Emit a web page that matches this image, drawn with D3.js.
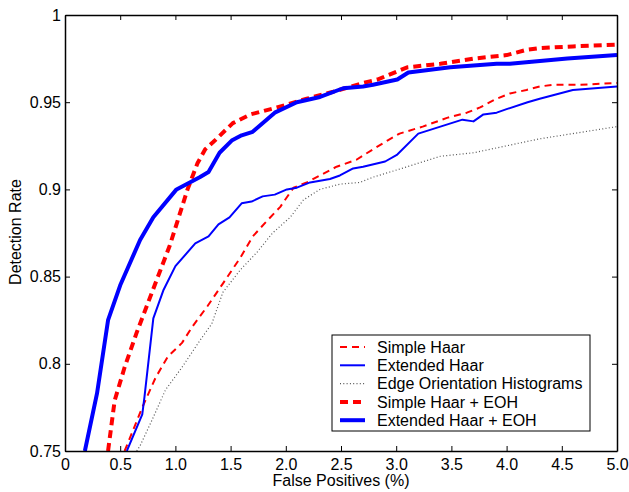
<!DOCTYPE html>
<html><head><meta charset="utf-8">
<script src="https://cdn.jsdelivr.net/npm/d3@7"></script>
<style>body{margin:0;background:#fff}svg{display:block}text{font-family:"Liberation Sans",Arial,sans-serif;fill:#000}</style>
</head><body><div id="chart"></div>
<script>
const seriesNames = ["Simple Haar","Extended Haar","Edge Orientation Histograms","Simple Haar + EOH","Extended Haar + EOH"];
const xTicks = [0,0.5,1.0,1.5,2.0,2.5,3.0,3.5,4.0,4.5,5.0];
const xTickLabels = ["0","0.5","1.0","1.5","2.0","2.5","3.0","3.5","4.0","4.5","5.0"];
const yTicks = [0.75,0.8,0.85,0.9,0.95,1];
const yTickLabels = ["0.75","0.8","0.85","0.9","0.95","1"];

const simpleHaar = [[0.54,0.75],[0.70,0.775],[0.82,0.792],[0.93,0.804],[1.06,0.812],[1.15,0.821],[1.29,0.833],[1.43,0.846],[1.59,0.861],[1.70,0.873],[1.83,0.882],[1.95,0.890],[2.07,0.901],[2.19,0.904],[2.31,0.908],[2.46,0.913],[2.64,0.917],[2.79,0.923],[2.92,0.928],[3.03,0.932],[3.24,0.936],[3.46,0.941],[3.64,0.944],[3.76,0.947],[3.91,0.952],[4.03,0.955],[4.18,0.957],[4.30,0.959],[4.42,0.960],[4.66,0.960],[5.0,0.961]];
const extendedHaar = [[0.56,0.75],[0.70,0.771],[0.72,0.781],[0.80,0.826],[0.89,0.842],[1.00,0.856],[1.18,0.869],[1.30,0.873],[1.39,0.880],[1.49,0.884],[1.60,0.892],[1.69,0.893],[1.79,0.896],[1.90,0.897],[2.01,0.900],[2.10,0.901],[2.22,0.904],[2.40,0.906],[2.49,0.908],[2.61,0.912],[2.70,0.913],[2.90,0.916],[3.01,0.920],[3.20,0.932],[3.40,0.936],[3.60,0.940],[3.70,0.939],[3.79,0.943],[3.91,0.944],[4.00,0.946],[4.19,0.950],[4.30,0.952],[4.42,0.954],[4.60,0.957],[5.0,0.959]];
const eoh = [[0.65,0.75],[0.68,0.753],[0.79,0.768],[0.91,0.785],[1.06,0.798],[1.24,0.815],[1.33,0.823],[1.43,0.841],[1.59,0.854],[1.74,0.864],[1.88,0.875],[2.04,0.884],[2.16,0.894],[2.31,0.900],[2.49,0.903],[2.67,0.904],[2.79,0.907],[3.10,0.913],[3.40,0.919],[3.70,0.921],[4.00,0.925],[4.30,0.929],[4.60,0.932],[5.0,0.936]];
const simpleHaarEOH = [[0.39,0.75],[0.45,0.779],[0.54,0.798],[0.65,0.818],[0.74,0.833],[0.83,0.848],[0.95,0.868],[1.02,0.882],[1.11,0.900],[1.20,0.915],[1.27,0.923],[1.34,0.927],[1.52,0.938],[1.68,0.943],[1.92,0.947],[2.19,0.952],[2.43,0.956],[2.70,0.961],[2.83,0.963],[3.10,0.970],[3.40,0.972],[3.70,0.975],[4.00,0.977],[4.18,0.980],[4.30,0.981],[4.60,0.982],[5.0,0.983]];
const extendedHaarEOH = [[0.18,0.75],[0.29,0.783],[0.39,0.825],[0.50,0.845],[0.68,0.871],[0.80,0.884],[1.01,0.900],[1.22,0.907],[1.30,0.910],[1.40,0.921],[1.51,0.928],[1.60,0.931],[1.70,0.933],[1.90,0.944],[2.10,0.950],[2.31,0.953],[2.52,0.958],[2.70,0.959],[2.79,0.960],[3.01,0.963],[3.11,0.967],[3.49,0.970],[3.91,0.972],[4.03,0.972],[4.55,0.975],[5.0,0.977]];

const styles = [
  {color:"#ff0000", width:2, dash:"7,5"},
  {color:"#0000ff", width:2, dash:null},
  {color:"#555555", width:1.2, dash:"1,2.3"},
  {color:"#ff0000", width:4, dash:"8,5"},
  {color:"#0000ff", width:4, dash:null}
];
const allData = [simpleHaar, extendedHaar, eoh, simpleHaarEOH, extendedHaarEOH];

const W=629,H=492;
const m={left:65,right:12,top:15,bottom:41};
const FS=16;
const svg=d3.select("#chart").append("svg").attr("width",W).attr("height",H);
const x=d3.scaleLinear().domain([0,5]).range([m.left,W-m.right]);
const y=d3.scaleLinear().domain([0.75,1]).range([H-m.bottom,m.top]);

svg.append("clipPath").attr("id","clip").append("rect")
  .attr("x",m.left).attr("y",m.top).attr("width",W-m.left-m.right).attr("height",H-m.top-m.bottom);

const line=d3.line().x(d=>x(d[0])).y(d=>y(d[1]));
const g=svg.append("g").attr("clip-path","url(#clip)");
allData.forEach((d,i)=>{
  const s=styles[i];
  g.append("path").datum(d).attr("d",line).attr("fill","none")
   .attr("stroke",s.color).attr("stroke-width",s.width)
   .attr("stroke-dasharray",s.dash).attr("stroke-linejoin","round");
});

const tl=5;
const xb=d3.axisBottom(x).tickValues(xTicks).tickFormat((d,i)=>xTickLabels[i]).tickSizeInner(-tl).tickSizeOuter(0).tickPadding(8);
const xt=d3.axisTop(x).tickValues(xTicks).tickFormat("").tickSizeInner(-tl).tickSizeOuter(0);
const yl=d3.axisLeft(y).tickValues(yTicks).tickFormat((d,i)=>yTickLabels[i]).tickSizeInner(-tl).tickSizeOuter(0).tickPadding(4);
const yr=d3.axisRight(y).tickValues(yTicks).tickFormat("").tickSizeInner(-tl).tickSizeOuter(0);
function style(sel){sel.selectAll("path").attr("stroke","#000").attr("stroke-width",1.5);
  sel.selectAll("line").attr("stroke","#000");
  sel.selectAll("text").attr("font-size",FS).attr("font-family","Liberation Sans, Arial, sans-serif").attr("fill","#000");}
svg.append("g").attr("transform",`translate(0,${H-m.bottom})`).call(xb).call(style);
svg.append("g").attr("transform",`translate(0,${m.top})`).call(xt).call(style);
svg.append("g").attr("transform",`translate(${m.left},0)`).call(yl).call(style);
svg.append("g").attr("transform",`translate(${W-m.right},0)`).call(yr).call(style);

svg.append("text").attr("x",(m.left+W-m.right)/2).attr("y",486).attr("text-anchor","middle").attr("font-size",FS).text("False Positives (%)");
svg.append("text").attr("transform",`translate(21,232) rotate(-90)`).attr("text-anchor","middle").attr("font-size",FS).text("Detection Rate");

const lg=svg.append("g");
lg.append("rect").attr("x",332).attr("y",335).attr("width",258).attr("height",96).attr("fill","#fff").attr("stroke","#000").attr("stroke-width",1);
seriesNames.forEach((n,i)=>{
  const yy=347+i*18.3, s=styles[i];
  lg.append("line").attr("x1",340).attr("x2",365).attr("y1",yy).attr("y2",yy)
    .attr("stroke",s.color).attr("stroke-width",s.width).attr("stroke-dasharray",s.dash);
  lg.append("text").attr("x",377).attr("y",yy).attr("dy","0.35em").attr("font-size",FS).text(n);
});
</script></body></html>
